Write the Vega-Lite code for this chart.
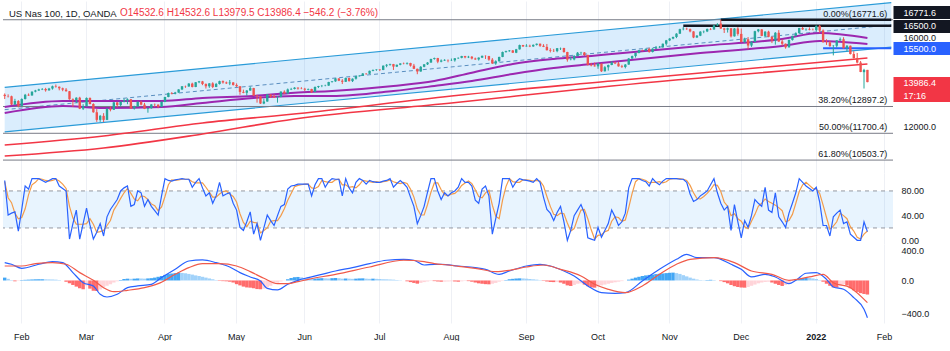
{
"$schema":"https://vega.github.io/schema/vega-lite/v6.json",
"padding":0,
"background":"#ffffff",
"config":{"view":{"stroke":null},"font":"Liberation Sans","axis":{"labelFont":"Liberation Sans","labelColor":"#131722","labelFontSize":9}},
"title":{"text":"US Nas 100, 1D, OANDA","anchor":"start","frame":"group","fontSize":9.5,"fontWeight":"normal","font":"Liberation Sans","color":"#131722","offset":-18,"dx":6},
"spacing":0,
"bounds":"flush",
"resolve":{"scale":{"x":"shared","y":"independent"}},
"datasets":{
"fut":[{"d":"2022-01-26"},{"d":"2022-01-27"},{"d":"2022-01-28"},{"d":"2022-01-31"},{"d":"2022-02-01"},{"d":"2022-02-02"},{"d":"2022-02-03"}],
"bars":[
{"d":"2021-01-25","o":13420,"h":13480,"l":13230,"c":13362,"k":97,"s":95,"hi":35},
{"d":"2021-01-26","o":13362,"h":13440,"l":13300,"c":13355,"k":41,"s":69,"hi":20},
{"d":"2021-01-27","o":13355,"h":13380,"l":12960,"c":12990,"k":44,"s":61,"hi":5},
{"d":"2021-01-28","o":12990,"h":13240,"l":12970,"c":13145,"k":46,"s":44,"hi":-10},
{"d":"2021-01-29","o":13145,"h":13180,"l":12860,"c":12925,"k":15,"s":35,"hi":-5},
{"d":"2021-02-01","o":12925,"h":13260,"l":12900,"c":13230,"k":50,"s":37,"hi":5},
{"d":"2021-02-02","o":13230,"h":13460,"l":13210,"c":13420,"k":88,"s":51,"hi":8},
{"d":"2021-02-03","o":13420,"h":13480,"l":13370,"c":13390,"k":83,"s":74,"hi":10},
{"d":"2021-02-04","o":13390,"h":13570,"l":13380,"c":13560,"k":100,"s":90,"hi":12},
{"d":"2021-02-05","o":13560,"h":13640,"l":13530,"c":13612,"k":100,"s":94,"hi":14},
{"d":"2021-02-08","o":13612,"h":13690,"l":13590,"c":13660,"k":100,"s":100,"hi":15},
{"d":"2021-02-09","o":13660,"h":13720,"l":13630,"c":13680,"k":97,"s":99,"hi":15},
{"d":"2021-02-10","o":13680,"h":13730,"l":13560,"c":13620,"k":94,"s":97,"hi":14},
{"d":"2021-02-11","o":13620,"h":13730,"l":13600,"c":13700,"k":97,"s":96,"hi":13},
{"d":"2021-02-12","o":13700,"h":13830,"l":13650,"c":13800,"k":100,"s":97,"hi":12},
{"d":"2021-02-16","o":13800,"h":13880,"l":13740,"c":13780,"k":100,"s":99,"hi":10},
{"d":"2021-02-17","o":13780,"h":13790,"l":13620,"c":13710,"k":88,"s":96,"hi":5},
{"d":"2021-02-18","o":13710,"h":13740,"l":13580,"c":13650,"k":84,"s":91,"hi":0},
{"d":"2021-02-19","o":13650,"h":13720,"l":13560,"c":13580,"k":80,"s":84,"hi":-15},
{"d":"2021-02-22","o":13580,"h":13590,"l":13200,"c":13220,"k":2,"s":55,"hi":-35},
{"d":"2021-02-23","o":13220,"h":13260,"l":12880,"c":13180,"k":27,"s":36,"hi":-55},
{"d":"2021-02-24","o":13180,"h":13310,"l":13050,"c":13290,"k":49,"s":26,"hi":-75},
{"d":"2021-02-25","o":13290,"h":13330,"l":12780,"c":12800,"k":2,"s":26,"hi":-95},
{"d":"2021-02-26","o":12800,"h":13000,"l":12740,"c":12910,"k":27,"s":26,"hi":-108},
{"d":"2021-03-01","o":12910,"h":13300,"l":12900,"c":13280,"k":52,"s":27,"hi":-60},
{"d":"2021-03-02","o":13280,"h":13300,"l":12990,"c":13010,"k":25,"s":35,"hi":-100},
{"d":"2021-03-03","o":13010,"h":13040,"l":12620,"c":12640,"k":2,"s":26,"hi":-125},
{"d":"2021-03-04","o":12640,"h":12780,"l":12210,"c":12300,"k":13,"s":13,"hi":-130},
{"d":"2021-03-05","o":12300,"h":12520,"l":12210,"c":12480,"k":27,"s":14,"hi":-110},
{"d":"2021-03-08","o":12480,"h":12600,"l":12200,"c":12300,"k":7,"s":16,"hi":-85},
{"d":"2021-03-09","o":12300,"h":12830,"l":12290,"c":12790,"k":38,"s":24,"hi":-65},
{"d":"2021-03-10","o":12790,"h":12900,"l":12680,"c":12750,"k":50,"s":32,"hi":-45},
{"d":"2021-03-11","o":12750,"h":13100,"l":12740,"c":13080,"k":58,"s":49,"hi":-25},
{"d":"2021-03-12","o":13080,"h":13090,"l":12850,"c":12960,"k":66,"s":58,"hi":-10},
{"d":"2021-03-15","o":12960,"h":13120,"l":12900,"c":13110,"k":80,"s":68,"hi":5},
{"d":"2021-03-16","o":13110,"h":13250,"l":13080,"c":13170,"k":85,"s":77,"hi":18},
{"d":"2021-03-17","o":13170,"h":13260,"l":13000,"c":13220,"k":88,"s":84,"hi":22},
{"d":"2021-03-18","o":13220,"h":13230,"l":12800,"c":12810,"k":55,"s":76,"hi":20},
{"d":"2021-03-19","o":12810,"h":12930,"l":12760,"c":12900,"k":58,"s":67,"hi":22},
{"d":"2021-03-22","o":12900,"h":13130,"l":12880,"c":13100,"k":80,"s":64,"hi":25},
{"d":"2021-03-23","o":13100,"h":13160,"l":12950,"c":12980,"k":77,"s":72,"hi":24},
{"d":"2021-03-24","o":12980,"h":13060,"l":12780,"c":12790,"k":55,"s":71,"hi":22},
{"d":"2021-03-25","o":12790,"h":12850,"l":12620,"c":12820,"k":66,"s":66,"hi":25},
{"d":"2021-03-26","o":12820,"h":13000,"l":12800,"c":12990,"k":55,"s":59,"hi":28},
{"d":"2021-03-29","o":12990,"h":13030,"l":12870,"c":12980,"k":48,"s":56,"hi":35},
{"d":"2021-03-30","o":12980,"h":12990,"l":12820,"c":12880,"k":41,"s":48,"hi":45},
{"d":"2021-03-31","o":12880,"h":13130,"l":12870,"c":13100,"k":72,"s":54,"hi":55},
{"d":"2021-04-01","o":13100,"h":13330,"l":13090,"c":13320,"k":100,"s":71,"hi":68},
{"d":"2021-04-05","o":13320,"h":13520,"l":13310,"c":13500,"k":97,"s":90,"hi":78},
{"d":"2021-04-06","o":13500,"h":13540,"l":13440,"c":13470,"k":96,"s":98,"hi":85},
{"d":"2021-04-07","o":13470,"h":13550,"l":13440,"c":13520,"k":98,"s":97,"hi":90},
{"d":"2021-04-08","o":13520,"h":13670,"l":13510,"c":13660,"k":99,"s":98,"hi":95},
{"d":"2021-04-09","o":13660,"h":13810,"l":13630,"c":13800,"k":100,"s":99,"hi":92},
{"d":"2021-04-12","o":13800,"h":13830,"l":13730,"c":13790,"k":99,"s":99,"hi":88},
{"d":"2021-04-13","o":13790,"h":13940,"l":13780,"c":13920,"k":99,"s":99,"hi":80},
{"d":"2021-04-14","o":13920,"h":13960,"l":13750,"c":13770,"k":86,"s":95,"hi":72},
{"d":"2021-04-15","o":13770,"h":13990,"l":13760,"c":13980,"k":94,"s":93,"hi":62},
{"d":"2021-04-16","o":13980,"h":14040,"l":13940,"c":14020,"k":100,"s":93,"hi":55},
{"d":"2021-04-19","o":14020,"h":14040,"l":13850,"c":13900,"k":85,"s":93,"hi":45},
{"d":"2021-04-20","o":13900,"h":13930,"l":13700,"c":13800,"k":72,"s":86,"hi":35},
{"d":"2021-04-21","o":13800,"h":13940,"l":13730,"c":13930,"k":77,"s":78,"hi":25},
{"d":"2021-04-22","o":13930,"h":13980,"l":13720,"c":13770,"k":60,"s":70,"hi":15},
{"d":"2021-04-23","o":13770,"h":13950,"l":13760,"c":13900,"k":72,"s":70,"hi":5},
{"d":"2021-04-26","o":13900,"h":14050,"l":13880,"c":14030,"k":94,"s":75,"hi":-5},
{"d":"2021-04-27","o":14030,"h":14060,"l":13920,"c":13970,"k":72,"s":79,"hi":-8},
{"d":"2021-04-28","o":13970,"h":14010,"l":13900,"c":13930,"k":75,"s":80,"hi":-10},
{"d":"2021-04-29","o":13930,"h":14080,"l":13850,"c":13970,"k":77,"s":75,"hi":-15},
{"d":"2021-04-30","o":13970,"h":13990,"l":13830,"c":13860,"k":60,"s":71,"hi":-25},
{"d":"2021-05-03","o":13860,"h":13930,"l":13770,"c":13800,"k":49,"s":62,"hi":-45},
{"d":"2021-05-04","o":13800,"h":13810,"l":13420,"c":13550,"k":21,"s":43,"hi":-60},
{"d":"2021-05-05","o":13550,"h":13650,"l":13490,"c":13510,"k":16,"s":29,"hi":-75},
{"d":"2021-05-06","o":13510,"h":13630,"l":13380,"c":13610,"k":30,"s":22,"hi":-85},
{"d":"2021-05-07","o":13610,"h":13790,"l":13600,"c":13720,"k":46,"s":31,"hi":-88},
{"d":"2021-05-10","o":13720,"h":13730,"l":13370,"c":13380,"k":10,"s":29,"hi":-95},
{"d":"2021-05-11","o":13380,"h":13420,"l":13070,"c":13350,"k":27,"s":28,"hi":-105},
{"d":"2021-05-12","o":13350,"h":13360,"l":13010,"c":13030,"k":0,"s":12,"hi":-108},
{"d":"2021-05-13","o":13030,"h":13250,"l":13000,"c":13120,"k":20,"s":16,"hi":-100},
{"d":"2021-05-14","o":13120,"h":13450,"l":13110,"c":13430,"k":41,"s":20,"hi":-85},
{"d":"2021-05-17","o":13430,"h":13440,"l":13280,"c":13350,"k":32,"s":31,"hi":-65},
{"d":"2021-05-18","o":13350,"h":13440,"l":13280,"c":13300,"k":24,"s":32,"hi":-45},
{"d":"2021-05-19","o":13300,"h":13360,"l":13070,"c":13320,"k":40,"s":32,"hi":-28},
{"d":"2021-05-20","o":13320,"h":13580,"l":13310,"c":13560,"k":55,"s":40,"hi":-12},
{"d":"2021-05-21","o":13560,"h":13620,"l":13450,"c":13480,"k":58,"s":51,"hi":-2},
{"d":"2021-05-24","o":13480,"h":13700,"l":13470,"c":13660,"k":83,"s":65,"hi":15},
{"d":"2021-05-25","o":13660,"h":13730,"l":13630,"c":13680,"k":88,"s":76,"hi":30},
{"d":"2021-05-26","o":13680,"h":13760,"l":13660,"c":13740,"k":89,"s":87,"hi":40},
{"d":"2021-05-27","o":13740,"h":13750,"l":13650,"c":13700,"k":91,"s":89,"hi":43},
{"d":"2021-05-28","o":13700,"h":13760,"l":13670,"c":13690,"k":91,"s":90,"hi":38},
{"d":"2021-06-01","o":13690,"h":13730,"l":13590,"c":13650,"k":91,"s":91,"hi":30},
{"d":"2021-06-02","o":13650,"h":13700,"l":13620,"c":13680,"k":91,"s":91,"hi":28},
{"d":"2021-06-03","o":13680,"h":13690,"l":13500,"c":13550,"k":72,"s":85,"hi":22},
{"d":"2021-06-04","o":13550,"h":13790,"l":13540,"c":13770,"k":90,"s":84,"hi":22},
{"d":"2021-06-07","o":13770,"h":13820,"l":13720,"c":13810,"k":100,"s":87,"hi":25},
{"d":"2021-06-08","o":13810,"h":13860,"l":13760,"c":13820,"k":100,"s":97,"hi":28},
{"d":"2021-06-09","o":13820,"h":13870,"l":13800,"c":13830,"k":86,"s":95,"hi":26},
{"d":"2021-06-10","o":13830,"h":14000,"l":13820,"c":13990,"k":95,"s":94,"hi":24},
{"d":"2021-06-11","o":13990,"h":14030,"l":13960,"c":14020,"k":100,"s":94,"hi":28},
{"d":"2021-06-14","o":14020,"h":14160,"l":14000,"c":14150,"k":99,"s":98,"hi":30},
{"d":"2021-06-15","o":14150,"h":14160,"l":14030,"c":14050,"k":99,"s":99,"hi":27},
{"d":"2021-06-16","o":14050,"h":14120,"l":13900,"c":14000,"k":72,"s":90,"hi":22},
{"d":"2021-06-17","o":14000,"h":14190,"l":13990,"c":14170,"k":100,"s":90,"hi":24},
{"d":"2021-06-18","o":14170,"h":14190,"l":14010,"c":14030,"k":85,"s":86,"hi":22},
{"d":"2021-06-21","o":14030,"h":14150,"l":13990,"c":14140,"k":77,"s":87,"hi":20},
{"d":"2021-06-22","o":14140,"h":14270,"l":14100,"c":14250,"k":94,"s":85,"hi":22},
{"d":"2021-06-23","o":14250,"h":14300,"l":14230,"c":14270,"k":100,"s":90,"hi":25},
{"d":"2021-06-24","o":14270,"h":14390,"l":14260,"c":14370,"k":97,"s":97,"hi":26},
{"d":"2021-06-25","o":14370,"h":14390,"l":14310,"c":14360,"k":91,"s":96,"hi":22},
{"d":"2021-06-28","o":14360,"h":14500,"l":14350,"c":14490,"k":97,"s":95,"hi":20},
{"d":"2021-06-29","o":14490,"h":14550,"l":14470,"c":14530,"k":95,"s":94,"hi":22},
{"d":"2021-06-30","o":14530,"h":14560,"l":14490,"c":14550,"k":94,"s":95,"hi":20},
{"d":"2021-07-01","o":14550,"h":14560,"l":14480,"c":14530,"k":94,"s":94,"hi":18},
{"d":"2021-07-02","o":14530,"h":14730,"l":14520,"c":14720,"k":96,"s":95,"hi":15},
{"d":"2021-07-06","o":14720,"h":14790,"l":14650,"c":14760,"k":97,"s":96,"hi":14},
{"d":"2021-07-07","o":14760,"h":14810,"l":14720,"c":14790,"k":100,"s":98,"hi":12},
{"d":"2021-07-08","o":14790,"h":14800,"l":14530,"c":14680,"k":86,"s":95,"hi":10},
{"d":"2021-07-09","o":14680,"h":14770,"l":14660,"c":14760,"k":92,"s":93,"hi":6},
{"d":"2021-07-12","o":14760,"h":14830,"l":14740,"c":14820,"k":97,"s":92,"hi":3},
{"d":"2021-07-13","o":14820,"h":14860,"l":14780,"c":14810,"k":92,"s":94,"hi":0},
{"d":"2021-07-14","o":14810,"h":14870,"l":14770,"c":14840,"k":86,"s":92,"hi":-10},
{"d":"2021-07-15","o":14840,"h":14850,"l":14680,"c":14720,"k":70,"s":83,"hi":-20},
{"d":"2021-07-16","o":14720,"h":14800,"l":14570,"c":14580,"k":55,"s":70,"hi":-30},
{"d":"2021-07-19","o":14580,"h":14590,"l":14340,"c":14460,"k":27,"s":51,"hi":-39},
{"d":"2021-07-20","o":14460,"h":14700,"l":14450,"c":14670,"k":40,"s":41,"hi":-30},
{"d":"2021-07-21","o":14670,"h":14790,"l":14650,"c":14780,"k":55,"s":41,"hi":-20},
{"d":"2021-07-22","o":14780,"h":14880,"l":14750,"c":14860,"k":78,"s":58,"hi":-12},
{"d":"2021-07-23","o":14860,"h":15030,"l":14850,"c":15020,"k":100,"s":78,"hi":-5},
{"d":"2021-07-26","o":15020,"h":15080,"l":14990,"c":15060,"k":100,"s":93,"hi":-8},
{"d":"2021-07-27","o":15060,"h":15070,"l":14830,"c":14900,"k":80,"s":93,"hi":-12},
{"d":"2021-07-28","o":14900,"h":15000,"l":14870,"c":14950,"k":66,"s":82,"hi":-15},
{"d":"2021-07-29","o":14950,"h":15010,"l":14930,"c":14980,"k":77,"s":74,"hi":-14},
{"d":"2021-07-30","o":14980,"h":14990,"l":14870,"c":14960,"k":72,"s":72,"hi":-12},
{"d":"2021-08-02","o":14950,"h":15040,"l":14930,"c":14960,"k":77,"s":75,"hi":-10},
{"d":"2021-08-03","o":14960,"h":15060,"l":14900,"c":15050,"k":80,"s":76,"hi":-12},
{"d":"2021-08-04","o":15050,"h":15090,"l":15020,"c":15070,"k":86,"s":81,"hi":-15},
{"d":"2021-08-05","o":15070,"h":15160,"l":15050,"c":15150,"k":100,"s":89,"hi":-10},
{"d":"2021-08-06","o":15150,"h":15160,"l":15050,"c":15090,"k":94,"s":93,"hi":-5},
{"d":"2021-08-09","o":15090,"h":15160,"l":15060,"c":15120,"k":94,"s":96,"hi":-8},
{"d":"2021-08-10","o":15120,"h":15150,"l":15000,"c":15040,"k":88,"s":92,"hi":-15},
{"d":"2021-08-11","o":15040,"h":15080,"l":14980,"c":15000,"k":65,"s":82,"hi":-25},
{"d":"2021-08-12","o":15000,"h":15090,"l":14950,"c":15080,"k":60,"s":71,"hi":-35},
{"d":"2021-08-13","o":15080,"h":15170,"l":15060,"c":15160,"k":83,"s":69,"hi":-40},
{"d":"2021-08-16","o":15160,"h":15180,"l":15020,"c":15150,"k":88,"s":77,"hi":-45},
{"d":"2021-08-17","o":15150,"h":15160,"l":14940,"c":14990,"k":72,"s":81,"hi":-47},
{"d":"2021-08-18","o":14990,"h":15060,"l":14800,"c":14820,"k":10,"s":57,"hi":-40},
{"d":"2021-08-19","o":14820,"h":14960,"l":14760,"c":14920,"k":35,"s":39,"hi":-30},
{"d":"2021-08-20","o":14920,"h":15120,"l":14900,"c":15110,"k":60,"s":35,"hi":-15},
{"d":"2021-08-23","o":15110,"h":15350,"l":15100,"c":15330,"k":100,"s":65,"hi":-5},
{"d":"2021-08-24","o":15330,"h":15390,"l":15300,"c":15370,"k":100,"s":87,"hi":5},
{"d":"2021-08-25","o":15370,"h":15420,"l":15340,"c":15400,"k":100,"s":100,"hi":15},
{"d":"2021-08-26","o":15400,"h":15420,"l":15290,"c":15300,"k":86,"s":95,"hi":20},
{"d":"2021-08-27","o":15300,"h":15470,"l":15280,"c":15450,"k":95,"s":94,"hi":24},
{"d":"2021-08-30","o":15450,"h":15660,"l":15440,"c":15640,"k":100,"s":94,"hi":26},
{"d":"2021-08-31","o":15640,"h":15650,"l":15560,"c":15580,"k":98,"s":98,"hi":25},
{"d":"2021-09-01","o":15580,"h":15680,"l":15570,"c":15610,"k":97,"s":98,"hi":22},
{"d":"2021-09-02","o":15610,"h":15660,"l":15550,"c":15580,"k":96,"s":97,"hi":18},
{"d":"2021-09-03","o":15580,"h":15670,"l":15560,"c":15650,"k":94,"s":96,"hi":14},
{"d":"2021-09-07","o":15650,"h":15710,"l":15620,"c":15700,"k":100,"s":97,"hi":10},
{"d":"2021-09-08","o":15700,"h":15710,"l":15560,"c":15610,"k":94,"s":96,"hi":4},
{"d":"2021-09-09","o":15610,"h":15680,"l":15550,"c":15560,"k":70,"s":88,"hi":-5},
{"d":"2021-09-10","o":15560,"h":15690,"l":15400,"c":15410,"k":50,"s":71,"hi":-12},
{"d":"2021-09-13","o":15410,"h":15500,"l":15310,"c":15380,"k":44,"s":55,"hi":-18},
{"d":"2021-09-14","o":15380,"h":15470,"l":15330,"c":15370,"k":32,"s":42,"hi":-20},
{"d":"2021-09-15","o":15370,"h":15510,"l":15320,"c":15500,"k":45,"s":40,"hi":-18},
{"d":"2021-09-16","o":15500,"h":15530,"l":15420,"c":15510,"k":55,"s":44,"hi":-25},
{"d":"2021-09-17","o":15510,"h":15520,"l":15300,"c":15330,"k":30,"s":43,"hi":-40},
{"d":"2021-09-20","o":15330,"h":15340,"l":14900,"c":14990,"k":0,"s":28,"hi":-60},
{"d":"2021-09-21","o":14990,"h":15120,"l":14960,"c":15000,"k":16,"s":15,"hi":-67},
{"d":"2021-09-22","o":15000,"h":15190,"l":14960,"c":15150,"k":40,"s":19,"hi":-55},
{"d":"2021-09-23","o":15150,"h":15330,"l":15140,"c":15300,"k":49,"s":35,"hi":-40},
{"d":"2021-09-24","o":15300,"h":15340,"l":15200,"c":15310,"k":58,"s":49,"hi":-35},
{"d":"2021-09-27","o":15310,"h":15330,"l":15150,"c":15200,"k":44,"s":50,"hi":-50},
{"d":"2021-09-28","o":15200,"h":15210,"l":14730,"c":14760,"k":4,"s":35,"hi":-70},
{"d":"2021-09-29","o":14760,"h":14850,"l":14690,"c":14730,"k":2,"s":17,"hi":-85},
{"d":"2021-09-30","o":14730,"h":14860,"l":14680,"c":14690,"k":0,"s":2,"hi":-88},
{"d":"2021-10-01","o":14690,"h":14840,"l":14580,"c":14810,"k":21,"s":8,"hi":-75},
{"d":"2021-10-04","o":14810,"h":14820,"l":14440,"c":14470,"k":5,"s":9,"hi":-60},
{"d":"2021-10-05","o":14470,"h":14700,"l":14460,"c":14650,"k":16,"s":14,"hi":-50},
{"d":"2021-10-06","o":14650,"h":14770,"l":14500,"c":14750,"k":27,"s":16,"hi":-40},
{"d":"2021-10-07","o":14750,"h":14920,"l":14740,"c":14860,"k":49,"s":31,"hi":-30},
{"d":"2021-10-08","o":14860,"h":14900,"l":14790,"c":14820,"k":38,"s":38,"hi":-22},
{"d":"2021-10-11","o":14820,"h":14890,"l":14680,"c":14690,"k":24,"s":37,"hi":-15},
{"d":"2021-10-12","o":14690,"h":14760,"l":14620,"c":14660,"k":30,"s":31,"hi":-8},
{"d":"2021-10-13","o":14660,"h":14790,"l":14600,"c":14770,"k":44,"s":33,"hi":0},
{"d":"2021-10-14","o":14770,"h":15060,"l":14760,"c":15040,"k":85,"s":53,"hi":10},
{"d":"2021-10-15","o":15040,"h":15170,"l":15030,"c":15150,"k":100,"s":76,"hi":22},
{"d":"2021-10-18","o":15150,"h":15300,"l":15080,"c":15290,"k":100,"s":95,"hi":35},
{"d":"2021-10-19","o":15290,"h":15420,"l":15270,"c":15410,"k":100,"s":100,"hi":45},
{"d":"2021-10-20","o":15410,"h":15440,"l":15360,"c":15400,"k":97,"s":99,"hi":55},
{"d":"2021-10-21","o":15400,"h":15480,"l":15370,"c":15470,"k":95,"s":97,"hi":62},
{"d":"2021-10-22","o":15470,"h":15520,"l":15300,"c":15330,"k":88,"s":93,"hi":68},
{"d":"2021-10-25","o":15330,"h":15500,"l":15310,"c":15480,"k":100,"s":94,"hi":72},
{"d":"2021-10-26","o":15480,"h":15600,"l":15470,"c":15530,"k":94,"s":94,"hi":78},
{"d":"2021-10-27","o":15530,"h":15600,"l":15510,"c":15540,"k":90,"s":95,"hi":82},
{"d":"2021-10-28","o":15540,"h":15710,"l":15530,"c":15700,"k":96,"s":93,"hi":86},
{"d":"2021-10-29","o":15700,"h":15870,"l":15620,"c":15850,"k":100,"s":95,"hi":90},
{"d":"2021-11-01","o":15850,"h":15950,"l":15820,"c":15930,"k":100,"s":99,"hi":94},
{"d":"2021-11-02","o":15930,"h":16020,"l":15900,"c":16000,"k":100,"s":100,"hi":96},
{"d":"2021-11-03","o":16000,"h":16170,"l":15950,"c":16150,"k":100,"s":100,"hi":90},
{"d":"2021-11-04","o":16150,"h":16370,"l":16140,"c":16350,"k":99,"s":100,"hi":80},
{"d":"2021-11-05","o":16350,"h":16450,"l":16300,"c":16370,"k":99,"s":99,"hi":65},
{"d":"2021-11-08","o":16370,"h":16420,"l":16320,"c":16350,"k":94,"s":97,"hi":50},
{"d":"2021-11-09","o":16350,"h":16380,"l":16210,"c":16250,"k":75,"s":89,"hi":35},
{"d":"2021-11-10","o":16250,"h":16260,"l":15950,"c":15980,"k":63,"s":77,"hi":22},
{"d":"2021-11-11","o":15980,"h":16090,"l":15960,"c":16060,"k":66,"s":68,"hi":12},
{"d":"2021-11-12","o":16060,"h":16260,"l":16040,"c":16240,"k":72,"s":67,"hi":5},
{"d":"2021-11-15","o":16240,"h":16290,"l":16170,"c":16250,"k":76,"s":71,"hi":3},
{"d":"2021-11-16","o":16250,"h":16380,"l":16220,"c":16360,"k":80,"s":76,"hi":5},
{"d":"2021-11-17","o":16360,"h":16400,"l":16310,"c":16340,"k":90,"s":82,"hi":8},
{"d":"2021-11-18","o":16340,"h":16540,"l":16320,"c":16520,"k":100,"s":90,"hi":5},
{"d":"2021-11-19","o":16520,"h":16620,"l":16490,"c":16570,"k":77,"s":89,"hi":0},
{"d":"2021-11-22","o":16600,"h":16771.6,"l":16360,"c":16380,"k":60,"s":79,"hi":-8},
{"d":"2021-11-23","o":16380,"h":16410,"l":16180,"c":16330,"k":49,"s":62,"hi":-20},
{"d":"2021-11-24","o":16330,"h":16420,"l":16200,"c":16390,"k":55,"s":55,"hi":-35},
{"d":"2021-11-26","o":16390,"h":16400,"l":15980,"c":16030,"k":16,"s":40,"hi":-55},
{"d":"2021-11-29","o":16030,"h":16400,"l":16020,"c":16380,"k":58,"s":43,"hi":-70},
{"d":"2021-11-30","o":16380,"h":16440,"l":16060,"c":16140,"k":30,"s":35,"hi":-80},
{"d":"2021-12-01","o":16140,"h":16380,"l":15760,"c":15780,"k":4,"s":31,"hi":-86},
{"d":"2021-12-02","o":15780,"h":15970,"l":15730,"c":15900,"k":32,"s":22,"hi":-88},
{"d":"2021-12-03","o":15900,"h":16000,"l":15450,"c":15620,"k":21,"s":19,"hi":-80},
{"d":"2021-12-06","o":15620,"h":15820,"l":15560,"c":15780,"k":40,"s":31,"hi":-65},
{"d":"2021-12-07","o":15780,"h":16280,"l":15770,"c":16260,"k":66,"s":42,"hi":-50},
{"d":"2021-12-08","o":16260,"h":16360,"l":16210,"c":16340,"k":60,"s":55,"hi":-35},
{"d":"2021-12-09","o":16340,"h":16350,"l":16040,"c":16050,"k":55,"s":60,"hi":-25},
{"d":"2021-12-10","o":16050,"h":16260,"l":16000,"c":16240,"k":86,"s":67,"hi":-18},
{"d":"2021-12-13","o":16240,"h":16280,"l":15990,"c":16010,"k":49,"s":63,"hi":-15},
{"d":"2021-12-14","o":16010,"h":16020,"l":15730,"c":15840,"k":45,"s":60,"hi":-25},
{"d":"2021-12-15","o":15840,"h":16220,"l":15660,"c":16190,"k":77,"s":57,"hi":-40},
{"d":"2021-12-16","o":16190,"h":16310,"l":15780,"c":15800,"k":38,"s":53,"hi":-55},
{"d":"2021-12-17","o":15800,"h":15900,"l":15610,"c":15700,"k":30,"s":48,"hi":-67},
{"d":"2021-12-20","o":15700,"h":15710,"l":15480,"c":15540,"k":21,"s":30,"hi":-55},
{"d":"2021-12-21","o":15540,"h":15880,"l":15530,"c":15870,"k":44,"s":32,"hi":-30},
{"d":"2021-12-22","o":15870,"h":16060,"l":15840,"c":16050,"k":60,"s":42,"hi":-5},
{"d":"2021-12-23","o":16050,"h":16210,"l":16030,"c":16170,"k":77,"s":60,"hi":10},
{"d":"2021-12-27","o":16170,"h":16410,"l":16160,"c":16400,"k":100,"s":79,"hi":22},
{"d":"2021-12-28","o":16400,"h":16450,"l":16320,"c":16340,"k":94,"s":90,"hi":30},
{"d":"2021-12-29","o":16340,"h":16390,"l":16280,"c":16350,"k":88,"s":94,"hi":32},
{"d":"2021-12-30","o":16350,"h":16430,"l":16300,"c":16320,"k":84,"s":89,"hi":30},
{"d":"2021-12-31","o":16320,"h":16380,"l":16300,"c":16310,"k":80,"s":84,"hi":25},
{"d":"2022-01-03","o":16310,"h":16520,"l":16250,"c":16500,"k":86,"s":83,"hi":18},
{"d":"2022-01-04","o":16500,"h":16540,"l":16180,"c":16290,"k":62,"s":76,"hi":5},
{"d":"2022-01-05","o":16290,"h":16340,"l":15750,"c":15770,"k":24,"s":57,"hi":-15},
{"d":"2022-01-06","o":15770,"h":15900,"l":15650,"c":15760,"k":24,"s":37,"hi":-40},
{"d":"2022-01-07","o":15760,"h":15830,"l":15560,"c":15600,"k":7,"s":18,"hi":-65},
{"d":"2022-01-10","o":15600,"h":15640,"l":15180,"c":15610,"k":38,"s":23,"hi":-85},
{"d":"2022-01-11","o":15610,"h":15860,"l":15530,"c":15850,"k":44,"s":30,"hi":-88},
{"d":"2022-01-12","o":15850,"h":15980,"l":15830,"c":15900,"k":49,"s":44,"hi":-70},
{"d":"2022-01-13","o":15900,"h":15990,"l":15480,"c":15500,"k":27,"s":40,"hi":-45},
{"d":"2022-01-14","o":15500,"h":15640,"l":15360,"c":15610,"k":30,"s":35,"hi":-60},
{"d":"2022-01-18","o":15610,"h":15620,"l":15220,"c":15240,"k":10,"s":22,"hi":-95},
{"d":"2022-01-19","o":15240,"h":15370,"l":15040,"c":15060,"k":5,"s":15,"hi":-120},
{"d":"2022-01-20","o":15060,"h":15290,"l":14820,"c":14860,"k":0,"s":5,"hi":-140},
{"d":"2022-01-21","o":14860,"h":14930,"l":14430,"c":14440,"k":0,"s":2,"hi":-155},
{"d":"2022-01-24","o":14430,"h":14580,"l":13700,"c":14532.6,"k":30,"s":10,"hi":-165},
{"d":"2022-01-25","o":14532.6,"h":14532.6,"l":13979.5,"c":13986.4,"k":14,"s":15,"hi":-172}
],
"chan":[{"d":"2021-01-25","up":13755,"mid":12757,"lo":11765},{"d":"2022-02-03","up":17535,"mid":16542,"lo":15550}],
"fib":[{"d":"2022-02-03","lvl":16771.6,"lab":"0.00%(16771.6)"},{"d":"2022-02-03","lvl":12897.2,"lab":"38.20%(12897.2)"},{"d":"2022-02-03","lvl":11700.4,"lab":"50.00%(11700.4)"},{"d":"2022-02-03","lvl":10503.7,"lab":"61.80%(10503.7)"}],
"rays":[{"from":"2021-11-22","to":"2022-02-03","lvl":16771.6,"kind":"top"},{"from":"2021-11-05","to":"2022-02-03","lvl":16500,"kind":"top"},{"from":"2022-01-05","to":"2022-02-03","lvl":15500,"kind":"support"}],
"ma":[
{"d":"2021-01-25","ser":"p1","v":12875},{"d":"2021-02-18","ser":"p1","v":13143},{"d":"2021-03-31","ser":"p1","v":13143},{"d":"2021-04-19","ser":"p1","v":13277},{"d":"2021-05-10","ser":"p1","v":13366},{"d":"2021-05-26","ser":"p1","v":13514},{"d":"2021-06-11","ser":"p1","v":13589},{"d":"2021-07-08","ser":"p1","v":13813},{"d":"2021-07-26","ser":"p1","v":14036},{"d":"2021-08-10","ser":"p1","v":14407},{"d":"2021-08-26","ser":"p1","v":14795},{"d":"2021-09-14","ser":"p1","v":15018},{"d":"2021-09-29","ser":"p1","v":15152},{"d":"2021-10-07","ser":"p1","v":15242},{"d":"2021-11-12","ser":"p1","v":15599},{"d":"2021-12-17","ser":"p1","v":15912},{"d":"2022-01-04","ser":"p1","v":16180},{"d":"2022-01-25","ser":"p1","v":15956},
{"d":"2021-01-25","ser":"p2","v":12607},{"d":"2021-02-18","ser":"p2","v":12920},{"d":"2021-03-08","ser":"p2","v":12830},{"d":"2021-03-31","ser":"p2","v":12875},{"d":"2021-04-19","ser":"p2","v":13053},{"d":"2021-05-10","ser":"p2","v":13277},{"d":"2021-05-26","ser":"p2","v":13366},{"d":"2021-06-11","ser":"p2","v":13366},{"d":"2021-07-08","ser":"p2","v":13589},{"d":"2021-07-26","ser":"p2","v":13813},{"d":"2021-08-10","ser":"p2","v":14036},{"d":"2021-08-26","ser":"p2","v":14349},{"d":"2021-09-14","ser":"p2","v":14616},{"d":"2021-09-29","ser":"p2","v":14795},{"d":"2021-11-12","ser":"p2","v":15286},{"d":"2021-12-17","ser":"p2","v":15599},{"d":"2022-01-04","ser":"p2","v":15822},{"d":"2022-01-25","ser":"p2","v":15688},
{"d":"2021-01-25","ser":"r1","v":11178},{"d":"2021-03-08","ser":"r1","v":11580},{"d":"2021-04-19","ser":"r1","v":12160},{"d":"2021-06-01","ser":"r1","v":12607},{"d":"2021-08-02","ser":"r1","v":13366},{"d":"2021-10-07","ser":"r1","v":14036},{"d":"2022-01-25","ser":"r1","v":15063},
{"d":"2021-01-25","ser":"r2","v":10686},{"d":"2021-03-08","ser":"r2","v":11044},{"d":"2021-04-19","ser":"r2","v":11669},{"d":"2021-05-26","ser":"r2","v":12339},{"d":"2021-08-02","ser":"r2","v":13053},{"d":"2021-10-07","ser":"r2","v":13813},{"d":"2022-01-25","ser":"r2","v":14795}
],
"macd":[
{"d":"2021-01-25","ser":"m","v":218},{"d":"2021-01-27","ser":"m","v":198},{"d":"2021-02-01","ser":"m","v":149},{"d":"2021-02-08","ser":"m","v":198},{"d":"2021-02-12","ser":"m","v":230},{"d":"2021-02-18","ser":"m","v":218},{"d":"2021-02-23","ser":"m","v":96},{"d":"2021-02-26","ser":"m","v":-27},{"d":"2021-03-03","ser":"m","v":-67},{"d":"2021-03-05","ser":"m","v":-169},{"d":"2021-03-09","ser":"m","v":-202},{"d":"2021-03-12","ser":"m","v":-169},{"d":"2021-03-17","ser":"m","v":-88},{"d":"2021-03-22","ser":"m","v":-67},{"d":"2021-03-26","ser":"m","v":-47},{"d":"2021-03-31","ser":"m","v":35},{"d":"2021-04-07","ser":"m","v":136},{"d":"2021-04-13","ser":"m","v":238},{"d":"2021-04-19","ser":"m","v":251},{"d":"2021-04-23","ser":"m","v":218},{"d":"2021-04-29","ser":"m","v":165},{"d":"2021-05-04","ser":"m","v":96},{"d":"2021-05-07","ser":"m","v":43},{"d":"2021-05-12","ser":"m","v":-6},{"d":"2021-05-14","ser":"m","v":-96},{"d":"2021-05-19","ser":"m","v":-116},{"d":"2021-05-24","ser":"m","v":-47},{"d":"2021-05-27","ser":"m","v":2},{"d":"2021-06-02","ser":"m","v":35},{"d":"2021-06-08","ser":"m","v":75},{"d":"2021-06-14","ser":"m","v":116},{"d":"2021-06-21","ser":"m","v":157},{"d":"2021-06-28","ser":"m","v":206},{"d":"2021-07-06","ser":"m","v":247},{"d":"2021-07-13","ser":"m","v":259},{"d":"2021-07-16","ser":"m","v":247},{"d":"2021-07-21","ser":"m","v":189},{"d":"2021-07-26","ser":"m","v":198},{"d":"2021-07-28","ser":"m","v":198},{"d":"2021-08-04","ser":"m","v":177},{"d":"2021-08-11","ser":"m","v":157},{"d":"2021-08-16","ser":"m","v":136},{"d":"2021-08-20","ser":"m","v":75},{"d":"2021-08-25","ser":"m","v":116},{"d":"2021-09-01","ser":"m","v":177},{"d":"2021-09-08","ser":"m","v":198},{"d":"2021-09-13","ser":"m","v":177},{"d":"2021-09-17","ser":"m","v":116},{"d":"2021-09-22","ser":"m","v":55},{"d":"2021-09-28","ser":"m","v":-67},{"d":"2021-10-04","ser":"m","v":-149},{"d":"2021-10-08","ser":"m","v":-157},{"d":"2021-10-13","ser":"m","v":-149},{"d":"2021-10-20","ser":"m","v":-6},{"d":"2021-10-27","ser":"m","v":136},{"d":"2021-11-03","ser":"m","v":259},{"d":"2021-11-08","ser":"m","v":320},{"d":"2021-11-11","ser":"m","v":279},{"d":"2021-11-18","ser":"m","v":279},{"d":"2021-11-26","ser":"m","v":198},{"d":"2021-12-01","ser":"m","v":136},{"d":"2021-12-06","ser":"m","v":43},{"d":"2021-12-10","ser":"m","v":75},{"d":"2021-12-15","ser":"m","v":43},{"d":"2021-12-21","ser":"m","v":-39},{"d":"2021-12-23","ser":"m","v":2},{"d":"2021-12-29","ser":"m","v":88},{"d":"2022-01-03","ser":"m","v":96},{"d":"2022-01-06","ser":"m","v":14},{"d":"2022-01-10","ser":"m","v":-80},{"d":"2022-01-13","ser":"m","v":-108},{"d":"2022-01-19","ser":"m","v":-210},{"d":"2022-01-24","ser":"m","v":-353},{"d":"2022-01-25","ser":"m","v":-455},
{"d":"2021-01-25","ser":"s","v":177},{"d":"2021-02-01","ser":"s","v":177},{"d":"2021-02-05","ser":"s","v":206},{"d":"2021-02-12","ser":"s","v":218},{"d":"2021-02-19","ser":"s","v":198},{"d":"2021-02-25","ser":"s","v":96},{"d":"2021-03-03","ser":"s","v":2},{"d":"2021-03-08","ser":"s","v":-88},{"d":"2021-03-11","ser":"s","v":-137},{"d":"2021-03-17","ser":"s","v":-120},{"d":"2021-03-24","ser":"s","v":-88},{"d":"2021-03-30","ser":"s","v":-39},{"d":"2021-04-07","ser":"s","v":75},{"d":"2021-04-13","ser":"s","v":157},{"d":"2021-04-19","ser":"s","v":206},{"d":"2021-04-26","ser":"s","v":206},{"d":"2021-05-03","ser":"s","v":177},{"d":"2021-05-07","ser":"s","v":108},{"d":"2021-05-13","ser":"s","v":27},{"d":"2021-05-19","ser":"s","v":-39},{"d":"2021-05-24","ser":"s","v":-39},{"d":"2021-05-27","ser":"s","v":-14},{"d":"2021-06-02","ser":"s","v":14},{"d":"2021-06-14","ser":"s","v":75},{"d":"2021-06-28","ser":"s","v":165},{"d":"2021-07-13","ser":"s","v":247},{"d":"2021-07-21","ser":"s","v":230},{"d":"2021-07-26","ser":"s","v":206},{"d":"2021-07-30","ser":"s","v":189},{"d":"2021-08-04","ser":"s","v":173},{"d":"2021-08-11","ser":"s","v":149},{"d":"2021-08-19","ser":"s","v":108},{"d":"2021-08-25","ser":"s","v":124},{"d":"2021-09-01","ser":"s","v":165},{"d":"2021-09-09","ser":"s","v":189},{"d":"2021-09-16","ser":"s","v":136},{"d":"2021-09-24","ser":"s","v":55},{"d":"2021-09-30","ser":"s","v":-47},{"d":"2021-10-06","ser":"s","v":-108},{"d":"2021-10-13","ser":"s","v":-149},{"d":"2021-10-20","ser":"s","v":-67},{"d":"2021-10-27","ser":"s","v":75},{"d":"2021-11-03","ser":"s","v":198},{"d":"2021-11-09","ser":"s","v":259},{"d":"2021-11-18","ser":"s","v":279},{"d":"2021-11-29","ser":"s","v":218},{"d":"2021-12-06","ser":"s","v":116},{"d":"2021-12-14","ser":"s","v":75},{"d":"2021-12-21","ser":"s","v":2},{"d":"2021-12-30","ser":"s","v":43},{"d":"2022-01-05","ser":"s","v":75},{"d":"2022-01-10","ser":"s","v":-27},{"d":"2022-01-18","ser":"s","v":-88},{"d":"2022-01-25","ser":"s","v":-271}
]
},
"vconcat":[
{
"width":890,"height":172,
"title":{"text":"O14532.6  H14532.6  L13979.5  C13986.4  \u2212546.2 (\u22123.76%)","anchor":"start","frame":"group","fontSize":10,"fontWeight":"normal","font":"Liberation Sans","color":"#f23645","offset":-18,"dx":117},
"resolve":{"axis":{"y":"independent"}},
"layer":[
{"data":{"name":"chan"},"mark":{"type":"area","color":"#2196f3","opacity":0.17},
 "encoding":{
  "x":{"field":"d","type":"ordinal","title":null,"scale":{"type":"band","paddingInner":0,"paddingOuter":0},"axis":{"values":["2021-02-01","2021-03-01","2021-04-01","2021-05-03","2021-06-01","2021-07-01","2021-08-02","2021-09-01","2021-10-01","2021-11-01","2021-12-01","2022-01-03","2022-02-01"],"labels":false,"ticks":false,"domain":false,"grid":true,"gridColor":"#eef0f5","title":null}},
  "y":{"field":"lo","type":"quantitative","title":null,"scale":{"domain":[9927,17609],"nice":false,"zero":false},
   "axis":{"orient":"right","values":[17117,16500,16000,15500,13679,12000],
    "labelExpr":"datum.value == 17117 ? '16771.6' : datum.value == 13679 ? ['13986.4','17:16'] : format(datum.value, '.1f')",
    "grid":false,"domain":false,"ticks":true,"tickSize":57,"labelPadding":-47,"labelOverlap":false,"labelBound":false,"labelFlush":false,"labelLineHeight":13,"labelAlign":"left","labelBaseline":"middle","labelFontSize":9,"title":null,
    "labelOffset":{"expr":"datum.value == 13679 ? -6 : 0"},
    "tickColor":{"expr":"datum.value == 17117 || datum.value == 16500 ? '#131722' : datum.value == 15500 ? '#2962ff' : datum.value == 13679 ? '#f23645' : 'rgba(0,0,0,0)'"},
    "tickWidth":{"expr":"datum.value == 13679 ? 25 : 13"},
    "labelColor":{"expr":"datum.value == 16000 || datum.value == 12000 ? '#131722' : '#ffffff'"}}},
  "y2":{"field":"up"}}},
{"data":{"name":"fut"},"mark":{"type":"point","opacity":0},"encoding":{"x":{"field":"d","type":"ordinal","title":null}}},
{"data":{"name":"chan"},"mark":{"type":"line","color":"#2a9bd8","strokeWidth":1.2},"encoding":{"x":{"field":"d","type":"ordinal","title":null},"y":{"field":"up","type":"quantitative","title":null,"axis":null}}},
{"data":{"name":"chan"},"mark":{"type":"line","color":"#2a9bd8","strokeWidth":1.2},"encoding":{"x":{"field":"d","type":"ordinal","title":null},"y":{"field":"lo","type":"quantitative","title":null,"axis":null}}},
{"data":{"name":"chan"},"mark":{"type":"line","color":"#5a8fc0","strokeWidth":1,"strokeDash":[4,3]},"encoding":{"x":{"field":"d","type":"ordinal","title":null},"y":{"field":"mid","type":"quantitative","title":null,"axis":null}}},
{"data":{"name":"fib"},"mark":{"type":"rule","color":"#787b86","strokeWidth":1},"encoding":{"y":{"field":"lvl","type":"quantitative","title":null,"axis":null}}},
{"data":{"name":"fib"},"mark":{"type":"text","align":"right","baseline":"bottom","dx":-4,"dy":-1,"fontSize":9,"font":"Liberation Sans","color":"#131722"},"encoding":{"x":{"field":"d","type":"ordinal","title":null},"y":{"field":"lvl","type":"quantitative","title":null,"axis":null},"text":{"field":"lab"}}},
{"data":{"name":"ma"},"transform":[{"filter":"datum.ser == 'p1' || datum.ser == 'p2'"}],"mark":{"type":"line","interpolate":"monotone","color":"#9c27b0","strokeWidth":2},"encoding":{"x":{"field":"d","type":"ordinal","title":null},"y":{"field":"v","type":"quantitative","title":null,"axis":null},"detail":{"field":"ser"}}},
{"data":{"name":"ma"},"transform":[{"filter":"datum.ser == 'r1' || datum.ser == 'r2'"}],"mark":{"type":"line","interpolate":"monotone","color":"#f23645","strokeWidth":1.6},"encoding":{"x":{"field":"d","type":"ordinal","title":null},"y":{"field":"v","type":"quantitative","title":null,"axis":null},"detail":{"field":"ser"}}},
{"data":{"name":"rays"},"transform":[{"filter":"datum.kind == 'top'"}],"mark":{"type":"rule","strokeWidth":2.5,"color":"#131722"},"encoding":{"x":{"field":"from","type":"ordinal","title":null},"x2":{"field":"to"},"y":{"field":"lvl","type":"quantitative","title":null,"axis":null}}},
{"data":{"name":"rays"},"transform":[{"filter":"datum.kind == 'support'"}],"mark":{"type":"rule","strokeWidth":2,"color":"#2962ff"},"encoding":{"x":{"field":"from","type":"ordinal","title":null},"x2":{"field":"to"},"y":{"field":"lvl","type":"quantitative","title":null,"axis":null}}},
{"data":{"name":"bars"},"mark":{"type":"rule","strokeWidth":1},"encoding":{"x":{"field":"d","type":"ordinal","title":null},"y":{"field":"l","type":"quantitative","title":null,"axis":null},"y2":{"field":"h"},"color":{"condition":{"test":"datum.c >= datum.o","value":"#26a69a"},"value":"#ef5350"}}},
{"data":{"name":"bars"},"mark":{"type":"bar","size":2.4},"encoding":{"x":{"field":"d","type":"ordinal","title":null},"y":{"field":"o","type":"quantitative","title":null,"axis":null},"y2":{"field":"c"},"color":{"condition":{"test":"datum.c >= datum.o","value":"#26a69a"},"value":"#ef5350"}}}
]
},
{
"width":890,"height":71,
"resolve":{"axis":{"y":"independent"}},
"layer":[
{"data":{"values":[{"a":20,"b":80}]},"mark":{"type":"rect","color":"#2196f3","opacity":0.1},"encoding":{"y":{"field":"a","type":"quantitative","title":null,"scale":{"domain":[-6,109.1],"nice":false,"zero":false},"axis":{"orient":"right","values":[80,40,0],"labelExpr":"format(datum.value, '.2f')","grid":false,"domain":false,"ticks":false,"labelPadding":8,"labelOverlap":false,"labelBound":false,"labelFlush":false,"labelFontSize":9,"title":null}},"y2":{"field":"b"}}},
{"data":{"values":[{"v":20},{"v":80}]},"mark":{"type":"rule","color":"#9598a1","strokeDash":[4,4],"strokeWidth":1},"encoding":{"y":{"field":"v","type":"quantitative","title":null,"axis":null}}},
{"data":{"name":"bars"},"mark":{"type":"line","color":"#f39c4a","strokeWidth":1.2},"encoding":{"x":{"field":"d","type":"ordinal","title":null,"axis":{"values":["2021-02-01","2021-03-01","2021-04-01","2021-05-03","2021-06-01","2021-07-01","2021-08-02","2021-09-01","2021-10-01","2021-11-01","2021-12-01","2022-01-03","2022-02-01"],"labels":false,"ticks":false,"domain":false,"grid":true,"gridColor":"#eef0f5","title":null}},"y":{"field":"s","type":"quantitative","title":null,"axis":null}}},
{"data":{"name":"bars"},"mark":{"type":"line","color":"#2962ff","strokeWidth":1.2},"encoding":{"x":{"field":"d","type":"ordinal","title":null},"y":{"field":"k","type":"quantitative","title":null,"axis":null}}}
]
},
{
"width":890,"height":79,
"resolve":{"axis":{"y":"independent"}},
"layer":[
{"data":{"name":"bars"},"transform":[{"window":[{"op":"lag","field":"hi","as":"hp"}],"sort":[{"field":"d","order":"ascending"}]}],"mark":{"type":"bar","opacity":0.85},
 "encoding":{
  "x":{"field":"d","type":"ordinal","title":null,"axis":{"values":["2021-02-01","2021-03-01","2021-04-01","2021-05-03","2021-06-01","2021-07-01","2021-08-02","2021-09-01","2021-10-01","2021-11-01","2021-12-01","2022-01-03","2022-02-01"],"labelExpr":"datum.value == '2022-01-03' ? '2022' : utcFormat(toDate(datum.value), '%b')","labelAngle":0,"labels":true,"ticks":false,"domain":false,"grid":true,"gridColor":"#eef0f5","labelPadding":9,"labelFontSize":9,"labelOverlap":false,"labelBound":false,"labelFlush":false,"labelFontWeight":{"condition":{"test":"datum.value == '2022-01-03'","value":"bold"},"value":"normal"},"title":null}},
  "y":{"field":"hi","type":"quantitative","title":null,"scale":{"domain":[-520,446],"nice":false,"zero":false},"axis":{"orient":"right","values":[400,0,-400],"labelExpr":"format(datum.value, '.1f')","labelOffset":{"expr":"datum.value == 400 ? 3 : 0"},"grid":false,"domain":false,"ticks":false,"labelPadding":8,"labelOverlap":false,"labelBound":false,"labelFlush":false,"labelFontSize":9,"title":null}},
  "y2":{"datum":0},
  "color":{"condition":[{"test":"datum.hi >= 0 && datum.hi >= datum.hp","value":"#2196f3"},{"test":"datum.hi >= 0","value":"#90caf9"},{"test":"datum.hi < datum.hp","value":"#ff5252"}],"value":"#ffcdd2"}}},
{"data":{"name":"macd"},"mark":{"type":"line","interpolate":"monotone","strokeWidth":1.2},"encoding":{"x":{"field":"d","type":"ordinal","title":null},"y":{"field":"v","type":"quantitative","title":null,"axis":null},"color":{"field":"ser","type":"nominal","legend":null,"scale":{"domain":["m","s"],"range":["#2962ff","#f05a4a"]}}}}
]
}
]
}
